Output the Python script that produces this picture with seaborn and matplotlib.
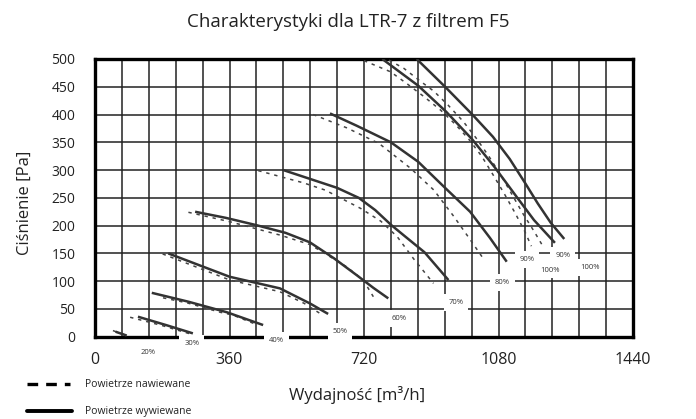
import matplotlib
matplotlib.use("Agg")
import matplotlib.pyplot as plt
import seaborn as sns
import numpy as np
from matplotlib.lines import Line2D

# ---------------- data (flow m3/h, pressure Pa) ----------------
# solid = Powietrze wywiewane, dashed = Powietrze nawiewane
s20_q = [55, 85]
s20_p = [9, 2]
d20_q = [48, 80]
d20_p = [11, 3]

s30_q = [115, 190, 262]
s30_p = [36, 21, 6]
d30_q = [94, 180, 255]
d30_p = [35, 20, 5]

s40_q = [152, 250, 353, 450]
s40_p = [79, 63, 44, 21]
d40_q = [182, 246, 335, 369, 428]
d40_p = [70, 61, 44, 39, 23]

s50_q = [196, 360, 495, 575, 624]
s50_p = [150, 108, 87, 60, 41]
d50_q = [181, 361, 495, 560, 602]
d50_p = [149, 102, 81, 60, 42]

s60_q = [268, 350, 431, 510, 575, 640, 700, 745, 785]
s60_p = [225, 214, 201, 187, 170, 141, 111, 88, 69]
d60_q = [250, 361, 495, 575, 610, 673, 718, 745]
d60_p = [224, 207, 183, 166, 152, 126, 102, 72]

s70_q = [504, 549, 648, 706, 750, 793, 831, 882, 946]
s70_p = [300, 290, 268, 250, 228, 201, 180, 152, 102]
d70_q = [437, 558, 616, 711, 765, 809, 852, 906]
d70_p = [299, 277, 264, 231, 208, 180, 141, 96]

s80_q = [629, 700, 792, 865, 937, 1004, 1057, 1102]
s80_p = [402, 380, 350, 315, 268, 225, 178, 135]
d80_q = [584, 674, 760, 845, 907, 961, 1005, 1040]
d80_p = [400, 376, 348, 303, 264, 216, 174, 140]

s90_q = [769, 865, 940, 1010, 1070, 1125, 1175, 1231]
s90_p = [500, 452, 405, 355, 305, 255, 210, 169]
d90_q = [720, 791, 836, 881, 925, 965, 1000, 1035, 1065, 1095, 1125, 1150, 1168]
d90_p = [497, 477, 455, 432, 408, 382, 356, 325, 292, 258, 222, 190, 163]

s100_q = [861, 937, 1010, 1065, 1110, 1150, 1185, 1220, 1256]
s100_p = [500, 450, 400, 360, 320, 278, 240, 205, 176]
d100_q = [787, 827, 867, 907, 945, 985, 1022, 1055, 1087, 1117, 1145, 1175, 1197]
d100_p = [498, 483, 462, 442, 417, 388, 356, 324, 290, 255, 222, 190, 165]

label_text = ["20%", "30%", "40%", "50%", "60%", "70%", "80%", "90%", "100%", "90%", "100%"]
label_q = [142, 259, 486, 656, 815, 966, 1091, 1156, 1218, 1252, 1325]
label_p = [-29, -12, -6, 9, 33, 61, 98, 139, 120, 147, 125]

x_ticks = [0, 360, 720, 1080, 1440]
y_ticks = [0, 50, 100, 150, 200, 250, 300, 350, 400, 450, 500]

title = "Charakterystyki dla LTR-7 z filtrem F5"
xlabel = "Wydajność [m³/h]"
ylabel = "Ciśnienie [Pa]"
legend_labels = ["Powietrze nawiewane", "Powietrze wywiewane"]

# ---------------- plotting ----------------
sns.set_style("white")
plt.rcParams['font.family'] = ['Open Sans', 'DejaVu Sans']

W, H = 696, 419
fig = plt.figure(figsize=(W / 100, H / 100), dpi=100)
ax = fig.add_axes([95 / W, 1 - 336.7 / H, 538 / W, (336.7 - 59) / H])

solid_curves = [(s20_q, s20_p), (s30_q, s30_p), (s40_q, s40_p), (s50_q, s50_p),
                (s60_q, s60_p), (s70_q, s70_p), (s80_q, s80_p), (s90_q, s90_p),
                (s100_q, s100_p)]
dashed_curves = [(d20_q, d20_p), (d30_q, d30_p), (d40_q, d40_p), (d50_q, d50_p),
                 (d60_q, d60_p), (d70_q, d70_p), (d80_q, d80_p), (d90_q, d90_p),
                 (d100_q, d100_p)]

curve_col = "#333333"
for q, p in dashed_curves:
    sns.lineplot(x=q, y=p, ax=ax, sort=False, estimator=None, color="#444444",
                 linewidth=1.1, linestyle=(0, (2.2, 3.2)), zorder=4)
for q, p in solid_curves:
    sns.lineplot(x=q, y=p, ax=ax, sort=False, estimator=None, color=curve_col,
                 linewidth=1.8, zorder=5, solid_capstyle="butt", solid_joinstyle="round")

ax.set_xlim(0, 1440)
ax.set_ylim(0, 500)
ax.set_xticks(x_ticks)
ax.set_xticks(np.arange(0, 1441, 72), minor=True)
ax.set_yticks(y_ticks)
ax.grid(True, which="both", color="#222222", linewidth=1.1)
ax.set_axisbelow(True)

for s in ax.spines.values():
    s.set_linewidth(2.4)
    s.set_color("black")
    s.set_zorder(3)

ax.tick_params(axis="x", which="major", direction="out", length=6, width=1.1,
               labelsize=11.5, pad=5, color="#222222", labelcolor="#222222")
ax.tick_params(axis="x", which="minor", direction="out", length=3, width=1.1,
               color="#222222")
ax.tick_params(axis="y", which="major", direction="out", length=5, width=1.1,
               labelsize=10, pad=9, color="#222222", labelcolor="#222222")

ax.set_xlabel("")
ax.set_ylabel("")

for t, q, p in zip(label_text, label_q, label_p):
    ax.text(q, p, t, fontsize=5.5, ha="center", va="center", clip_on=False, zorder=10,
            color="#333333", bbox=dict(facecolor="white", edgecolor="none", pad=3.5))

fig.text(0.5, 1 - 22 / H, title, ha="center", va="center", fontsize=13.5, color="#222222")
fig.text(357 / W, 1 - 395 / H, xlabel, ha="center", va="center", fontsize=12, color="#222222")
fig.text(25 / W, 1 - 203 / H, ylabel, ha="center", va="center", fontsize=12,
         rotation=90, color="#222222")

# legend
fig.add_artist(Line2D([27 / W, 70 / W], [1 - 384 / H, 1 - 384 / H], color="black",
                      linewidth=2.4, linestyle=(0, (3.2, 2.4))))
fig.add_artist(Line2D([27 / W, 72 / W], [1 - 411 / H, 1 - 411 / H], color="black",
                      linewidth=2.8))
fig.text(85 / W, 1 - 384 / H, legend_labels[0], ha="left", va="center", fontsize=7.5, color="#222222")
fig.text(85 / W, 1 - 411 / H, legend_labels[1], ha="left", va="center", fontsize=7.5, color="#222222")

fig.savefig("out.png", dpi=100)
